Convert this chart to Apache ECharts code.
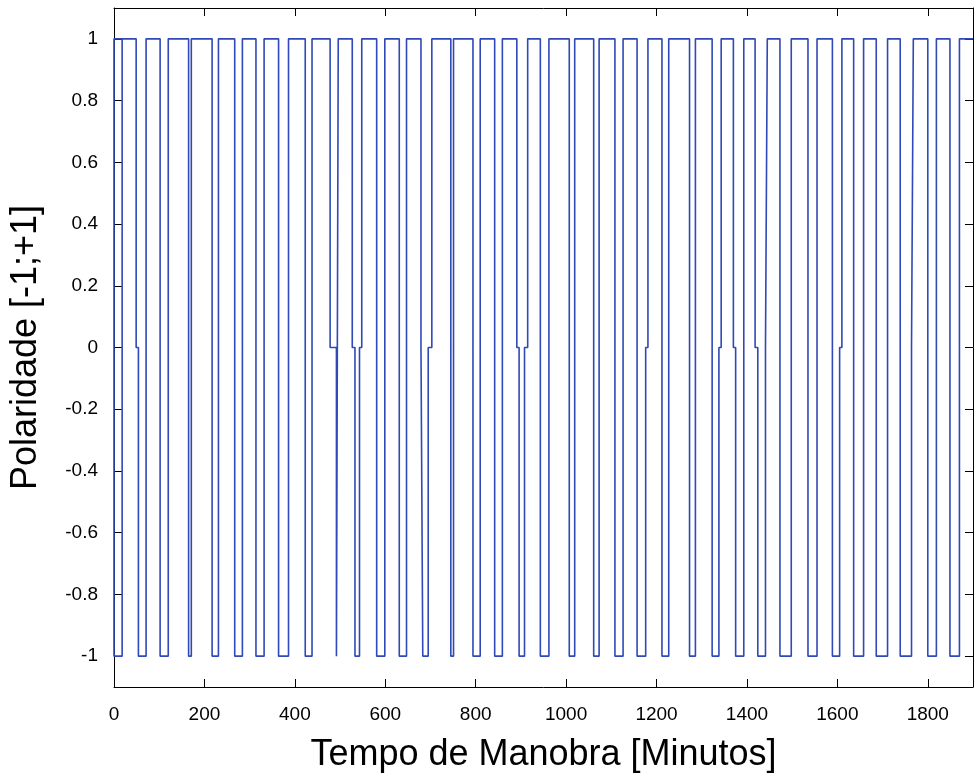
<!DOCTYPE html>
<html>
<head>
<meta charset="utf-8">
<script src="https://cdn.jsdelivr.net/npm/echarts@6/dist/echarts.min.js"></script>
<style>
  html, body { margin: 0; padding: 0; background: #ffffff; }
  #chart { width: 977px; height: 778px; }
</style>
</head>
<body>
<div id="chart"></div>
<script>
// Switching instants (minutes) and the polarity held from each instant on.
const switchTimes = [
  0, 18, 49, 54, 71, 102, 120, 165, 171, 217, 231, 267, 284, 314, 332, 364,
  386, 423, 438, 478, 492, 496, 527, 533, 543, 548, 581, 599, 631, 647, 679,
  683, 695, 703, 745, 751, 794, 810, 842, 859, 891, 896, 908, 915, 943, 962,
  1007, 1019, 1061, 1073, 1108, 1126, 1157, 1176, 1181, 1212, 1227, 1273,
  1286, 1323, 1338, 1343, 1370, 1375, 1393, 1418, 1424, 1441, 1445, 1473,
  1498, 1535, 1555, 1589, 1605, 1610, 1636, 1658, 1686, 1711, 1739, 1764,
  1768, 1800, 1819, 1849, 1870
];
const polarity = [
  -1, 1, 0, -1, 1, -1, 1, -1, 1, -1, 1, -1, 1, -1, 1, -1,
  1, -1, 1, 0, -1, 1, 0, -1, 0, 1, -1, 1, -1, 1, 0,
  -1, 0, 1, -1, 1, -1, 1, -1, 1, 0, -1, 0, 1, -1, 1,
  -1, 1, -1, 1, -1, 1, -1, 0, 1, -1, 1, -1,
  1, -1, 0, 1, 0, -1, 1, 0, -1, 0, 1, -1,
  1, -1, 1, -1, 0, 1, -1, 1, -1, 1, -1, 0,
  1, -1, 1, -1, 1
];
const endTime = 1900;
// Level shown just before the record starts (closes the first pulse).
const initialPolarity = 1;

const xTicks = [0, 200, 400, 600, 800, 1000, 1200, 1400, 1600, 1800];
const yTicks = [-1, -0.8, -0.6, -0.4, -0.2, 0, 0.2, 0.4, 0.6, 0.8, 1];

// Build the staircase: hold each level until the next switch, then jump.
const path = [[switchTimes[1], initialPolarity], [0, initialPolarity]];
for (let i = 0; i < switchTimes.length; i++) {
  if (i > 0) path.push([switchTimes[i], polarity[i - 1]]);
  path.push([switchTimes[i], polarity[i]]);
}
path.push([endTime, polarity[polarity.length - 1]]);

const FONT = '"Liberation Sans", Arial, sans-serif';
const fmtX = v => String(Math.round(v));
const fmtY = v => String(Math.round(v * 10) / 10);

const frameLine = { show: true, onZero: false, lineStyle: { color: '#000', width: 1 } };
const tickStyle = (values) => ({
  show: true, inside: true, length: 8, customValues: values,
  lineStyle: { color: '#000', width: 1 }
});

const chart = echarts.init(document.getElementById('chart'), null, { renderer: 'canvas' });
chart.setOption({
  animation: false,
  backgroundColor: '#ffffff',
  grid: { left: 114, right: 4, top: 8, bottom: 86, containLabel: false },
  xAxis: [{
    type: 'value', min: 0, max: endTime, position: 'bottom',
    name: 'Tempo de Manobra [Minutos]', nameLocation: 'middle', nameGap: 50,
    nameTextStyle: { fontFamily: FONT, fontSize: 36, color: '#000' },
    axisLine: frameLine,
    axisTick: tickStyle(xTicks),
    axisLabel: { customValues: xTicks, formatter: fmtX, fontFamily: FONT, fontSize: 19, color: '#000', margin: 18 },
    splitLine: { show: false }
  }, {
    type: 'value', min: 0, max: endTime, position: 'top',
    axisLine: frameLine,
    axisTick: tickStyle(xTicks),
    axisLabel: { show: false },
    splitLine: { show: false }
  }],
  yAxis: [{
    type: 'value', min: -1.1, max: 1.1, position: 'left',
    name: 'Polaridade [-1;+1]', nameLocation: 'middle', nameGap: 70, nameRotate: 90,
    nameTextStyle: { fontFamily: FONT, fontSize: 36, color: '#000' },
    axisLine: frameLine,
    axisTick: tickStyle(yTicks),
    axisLabel: { customValues: yTicks, formatter: fmtY, fontFamily: FONT, fontSize: 19, color: '#000', margin: 16 },
    splitLine: { show: false }
  }, {
    type: 'value', min: -1.1, max: 1.1, position: 'right',
    axisLine: frameLine,
    axisTick: tickStyle(yTicks),
    axisLabel: { show: false },
    splitLine: { show: false }
  }],
  series: [{
    type: 'line',
    data: path,
    xAxisIndex: 0,
    yAxisIndex: 0,
    showSymbol: false,
    symbol: 'none',
    clip: false,
    lineStyle: { color: '#3049b6', width: 1.6 },
    z: 3
  }]
});
</script>
</body>
</html>
